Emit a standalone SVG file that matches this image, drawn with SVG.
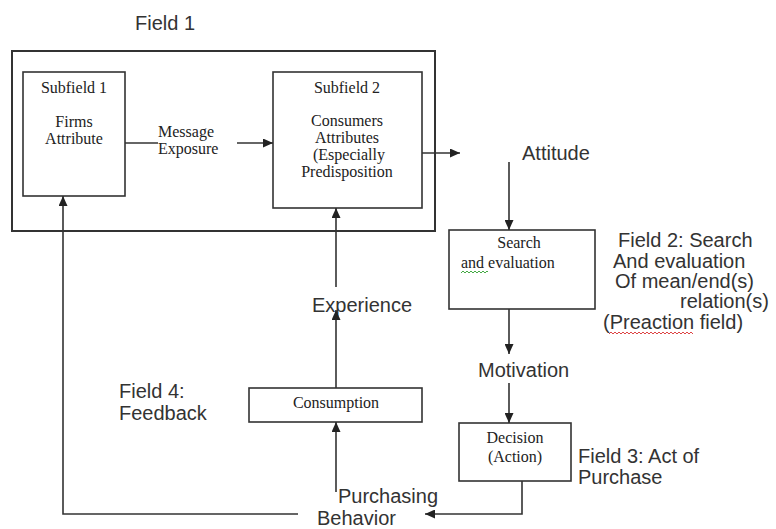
<svg xmlns="http://www.w3.org/2000/svg" width="776" height="529" viewBox="0 0 776 529">
<style>
.box{fill:#fff;stroke:#333;stroke-width:1.6}
.outer{fill:none;stroke:#333;stroke-width:2}
.ln{fill:none;stroke:#333;stroke-width:1.6}
.ar{marker-end:url(#ah)}
.t{font-family:"Liberation Serif","Times New Roman",serif;font-size:16px;fill:#222}
.c{text-anchor:middle}
.a{font-family:"Liberation Sans",Arial,sans-serif;font-size:20px;fill:#333}
.sq{fill:none;stroke-width:1}
</style>
<defs>
<marker id="ah" markerUnits="userSpaceOnUse" markerWidth="10" markerHeight="9" refX="10" refY="4.5" orient="auto">
<path d="M0,0 L10,4.5 L0,9 z" fill="#222"/>
</marker>
</defs>
<rect width="776" height="529" fill="#fff"/>

<g id="field1">
<text class="a" x="135" y="30">Field 1</text>
<rect class="outer" x="12" y="51" width="423" height="180"/>
</g>

<g id="subfield1">
<rect class="box" x="23" y="72" width="102" height="124"/>
<text class="t c" x="74" y="93">Subfield 1</text>
<text class="t c" x="74" y="127">Firms</text>
<text class="t c" x="74" y="144">Attribute</text>
</g>

<g id="message">
<text class="t" x="158" y="137">Message</text>
<text class="t" x="158" y="154">Exposure</text>
</g>

<g id="subfield2">
<rect class="box" x="273" y="72" width="149" height="136"/>
<text class="t c" x="347" y="93">Subfield 2</text>
<text class="t c" x="347" y="126">Consumers</text>
<text class="t c" x="347" y="143">Attributes</text>
<text class="t c" x="349" y="160">(Especially</text>
<text class="t c" x="347" y="177">Predisposition</text>
</g>

<g id="attitude"><text class="a" x="522" y="160">Attitude</text></g>

<g id="search">
<rect class="box" x="449" y="230" width="146" height="79"/>
<text class="t c" x="519" y="248">Search</text>
<text class="t" x="461" y="268" font-size="18">and evaluation</text>
<path class="sq" stroke="#4a4" d="M461,273 l2,-2 l2,2 l2,-2 l2,2 l2,-2 l2,2 l2,-2 l2,2 l2,-2 l2,2 l2,-2 l2,2 l2,-2 l1,1"/>
</g>

<g id="field2">
<text class="a" x="618" y="247">Field 2: Search</text>
<text class="a" x="613" y="268">And evaluation</text>
<text class="a" x="615" y="288">Of mean/end(s)</text>
<text class="a" x="680" y="308">relation(s)</text>
<text class="a" x="603" y="329">(Preaction field)</text>
<path class="sq" stroke="#d44" d="M609,334 l2,-2 l2,2 l2,-2 l2,2 l2,-2 l2,2 l2,-2 l2,2 l2,-2 l2,2 l2,-2 l2,2 l2,-2 l2,2 l2,-2 l2,2 l2,-2 l2,2 l2,-2 l2,2 l2,-2 l2,2 l2,-2 l2,2 l2,-2 l2,2 l2,-2 l2,2 l2,-2 l2,2 l2,-2 l2,2 l2,-2 l2,2 l2,-2 l2,2 l2,-2 l2,2 l2,-2 l2,2 l2,-2 l2,2"/>
</g>

<g id="motivation"><text class="a" x="478" y="377">Motivation</text></g>

<g id="decision">
<rect class="box" x="459" y="423" width="112" height="58"/>
<text class="t c" x="515" y="443">Decision</text>
<text class="t c" x="515" y="462">(Action)</text>
</g>

<g id="field3">
<text class="a" x="578" y="463">Field 3: Act of</text>
<text class="a" x="578" y="484">Purchase</text>
</g>

<g id="purchasing">
<text class="a" x="338" y="503">Purchasing</text>
<text class="a" x="317" y="525">Behavior</text>
</g>

<g id="consumption">
<rect class="box" x="249" y="388" width="173" height="34"/>
<text class="t c" x="336" y="408">Consumption</text>
</g>

<g id="experience"><text class="a" x="312" y="312">Experience</text></g>

<g id="field4">
<text class="a" x="119" y="398">Field 4:</text>
<text class="a" x="119" y="420">Feedback</text>
</g>

<g id="connectors">
<line class="ln" x1="125" y1="143" x2="158" y2="143"/>
<line class="ln ar" x1="237" y1="143" x2="273" y2="143"/>
<line class="ln ar" x1="422" y1="153" x2="460" y2="153"/>
<line class="ln ar" x1="509" y1="162" x2="509" y2="230"/>
<line class="ln ar" x1="509" y1="309" x2="509" y2="354"/>
<line class="ln ar" x1="509" y1="383" x2="509" y2="423"/>
<polyline class="ln ar" points="522,481 522,514 425,514"/>
<line class="ln ar" x1="336" y1="492" x2="336" y2="422"/>
<line class="ln ar" x1="336" y1="388" x2="336" y2="310"/>
<line class="ln ar" x1="336" y1="287" x2="336" y2="208"/>
<polyline class="ln ar" points="298,514 63,514 63,196"/>
</g>
</svg>
